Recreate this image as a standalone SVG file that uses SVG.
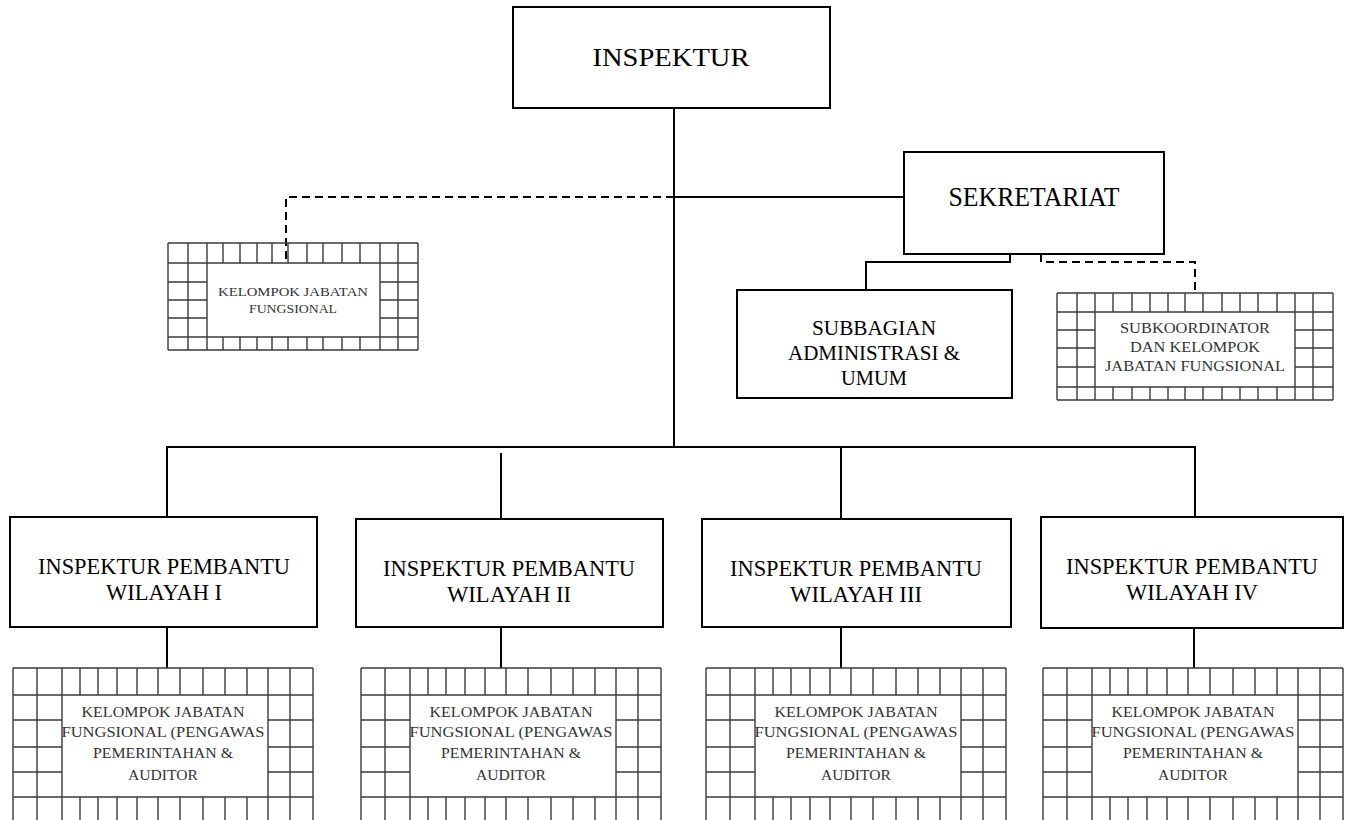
<svg xmlns="http://www.w3.org/2000/svg" xmlns:xlink="http://www.w3.org/1999/xlink" width="1346" height="820" viewBox="0 0 1346 820">
<style>
.box{fill:#fff;stroke:#000;stroke-width:2}
.conn{fill:none;stroke:#000;stroke-width:2}
.dash{fill:none;stroke:#000;stroke-width:2;stroke-dasharray:8 5}
.grid{fill:none;stroke:#3a3a3a;stroke-width:1.4}
.t{font-family:"Liberation Serif","Times New Roman",serif;fill:#000;text-anchor:middle}
.gt{font-family:"Liberation Serif","Times New Roman",serif;fill:#333;text-anchor:middle}
</style>
<defs>
<path id="gridBottom" class="grid" d="M0 0V160M24 0V160M49 0V160M255 0V160M277 0V160M300 0V160M67 0V27M85 0V27M104 0V27M124 0V27M145 0V27M167 0V27M190 0V27M212 0V27M234 0V27M67 129V160M85 129V160M104 129V160M124 129V160M145 129V160M167 129V160M190 129V160M212 129V160M234 129V160M0 0H300M0 27H300M0 129H300M0 52H49M0 79H49M0 104H49M255 52H300M255 79H300M255 104H300"/>
<g id="gridText">
<text class="gt" x="150" y="49" font-size="15" textLength="163" lengthAdjust="spacingAndGlyphs">KELOMPOK JABATAN</text>
<text class="gt" x="150" y="69" font-size="15" textLength="203" lengthAdjust="spacingAndGlyphs">FUNGSIONAL  (PENGAWAS</text>
<text class="gt" x="150" y="90" font-size="15" textLength="140" lengthAdjust="spacingAndGlyphs">PEMERINTAHAN &amp;</text>
<text class="gt" x="150" y="112" font-size="15" textLength="70" lengthAdjust="spacingAndGlyphs">AUDITOR</text>
</g>
</defs>

<g id="connectors">
<path class="conn" d="M674 108V447"/>
<path class="conn" d="M674 197H904"/>
<path class="dash" d="M674 197H286V262"/>
<path class="conn" d="M1010 254V262H866V290"/>
<path class="dash" d="M1041 254V262H1195V293"/>
<path class="conn" d="M167 517V447H1195V517"/>
<path class="conn" d="M501 453V519"/>
<path class="conn" d="M841 447V519"/>
<path class="conn" d="M167 627V668M501 627V668M841 627V668M1194 628V668"/>
</g>

<g id="inspektur">
<rect class="box" x="513" y="7" width="317" height="101"/>
<text class="t" x="671" y="66" font-size="26" textLength="157" lengthAdjust="spacingAndGlyphs">INSPEKTUR</text>
</g>

<g id="sekretariat">
<rect class="box" x="904" y="152" width="260" height="102"/>
<text class="t" x="1034" y="206" font-size="27" textLength="171" lengthAdjust="spacingAndGlyphs">SEKRETARIAT</text>
</g>

<g id="kjf-top">
<path class="grid" transform="translate(168,243)" d="M0 0V107M20 0V107M39 0V107M212 0V107M230 0V107M250 0V107M55 0V20M72 0V20M89 0V20M104 0V20M120 0V20M139 0V20M155 0V20M174 0V20M192 0V20M55 94V107M72 94V107M89 94V107M104 94V107M120 94V107M139 94V107M155 94V107M174 94V107M192 94V107M0 0H250M0 20H250M0 94H250M0 107H250M0 39H39M0 57H39M0 75H39M212 39H250M212 57H250M212 75H250"/>
<text class="gt" x="293" y="296" font-size="11.5" textLength="150" lengthAdjust="spacingAndGlyphs">KELOMPOK JABATAN</text>
<text class="gt" x="293" y="313" font-size="11.5" textLength="88" lengthAdjust="spacingAndGlyphs">FUNGSIONAL</text>
</g>

<g id="subbagian">
<rect class="box" x="737" y="290" width="275" height="108"/>
<text class="t" x="874" y="335" font-size="21" textLength="124" lengthAdjust="spacingAndGlyphs">SUBBAGIAN</text>
<text class="t" x="874" y="360" font-size="21" textLength="172" lengthAdjust="spacingAndGlyphs">ADMINISTRASI &amp;</text>
<text class="t" x="874" y="385" font-size="21" textLength="66" lengthAdjust="spacingAndGlyphs">UMUM</text>
</g>

<g id="subkoordinator">
<path class="grid" transform="translate(1057,293)" d="M0 0V107M20 0V107M38 0V107M238 0V107M256 0V107M276 0V107M56 0V19M75 0V19M93 0V19M111 0V19M128 0V19M146 0V19M165 0V19M183 0V19M201 0V19M220 0V19M56 94V107M75 94V107M93 94V107M111 94V107M128 94V107M146 94V107M165 94V107M183 94V107M201 94V107M220 94V107M0 0H276M0 19H276M0 94H276M0 107H276M0 37H38M0 55H38M0 74H38M238 37H276M238 55H276M238 74H276"/>
<text class="gt" x="1195" y="333" font-size="15" textLength="150" lengthAdjust="spacingAndGlyphs">SUBKOORDINATOR</text>
<text class="gt" x="1195" y="352" font-size="15" textLength="130" lengthAdjust="spacingAndGlyphs">DAN KELOMPOK</text>
<text class="gt" x="1195" y="371" font-size="15" textLength="180" lengthAdjust="spacingAndGlyphs">JABATAN FUNGSIONAL</text>
</g>

<g id="irban1">
<rect class="box" x="10" y="517" width="307" height="110"/>
<text class="t" x="164" y="574" font-size="23" textLength="252" lengthAdjust="spacingAndGlyphs">INSPEKTUR PEMBANTU</text>
<text class="t" x="164" y="600" font-size="23" textLength="116" lengthAdjust="spacingAndGlyphs">WILAYAH I</text>
</g>
<g id="irban2">
<rect class="box" x="356" y="519" width="307" height="108"/>
<text class="t" x="509" y="576" font-size="23" textLength="252" lengthAdjust="spacingAndGlyphs">INSPEKTUR PEMBANTU</text>
<text class="t" x="509" y="602" font-size="23" textLength="124" lengthAdjust="spacingAndGlyphs">WILAYAH II</text>
</g>
<g id="irban3">
<rect class="box" x="702" y="519" width="309" height="108"/>
<text class="t" x="856" y="576" font-size="23" textLength="252" lengthAdjust="spacingAndGlyphs">INSPEKTUR PEMBANTU</text>
<text class="t" x="856" y="602" font-size="23" textLength="132" lengthAdjust="spacingAndGlyphs">WILAYAH III</text>
</g>
<g id="irban4">
<rect class="box" x="1041" y="517" width="302" height="111"/>
<text class="t" x="1192" y="574" font-size="23" textLength="252" lengthAdjust="spacingAndGlyphs">INSPEKTUR PEMBANTU</text>
<text class="t" x="1192" y="600" font-size="23" textLength="132" lengthAdjust="spacingAndGlyphs">WILAYAH IV</text>
</g>

<g id="kjf1" transform="translate(13,668)"><use xlink:href="#gridBottom" href="#gridBottom"/><use xlink:href="#gridText" href="#gridText"/></g>
<g id="kjf2" transform="translate(361,668)"><use xlink:href="#gridBottom" href="#gridBottom"/><use xlink:href="#gridText" href="#gridText"/></g>
<g id="kjf3" transform="translate(706,668)"><use xlink:href="#gridBottom" href="#gridBottom"/><use xlink:href="#gridText" href="#gridText"/></g>
<g id="kjf4" transform="translate(1043,668)"><use xlink:href="#gridBottom" href="#gridBottom"/><use xlink:href="#gridText" href="#gridText"/></g>
</svg>
